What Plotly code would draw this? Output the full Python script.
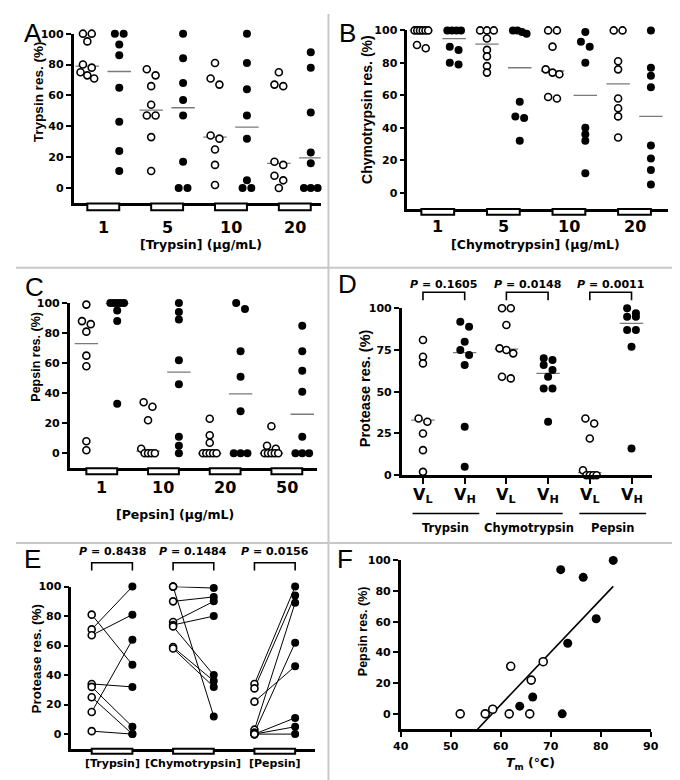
import numpy as np
import plotly.graph_objects as go

W, H = 680, 780
FONT_H = "DejaVu Sans, Verdana, sans-serif"        # wide bold face for horizontal text
FONT_V = "Liberation Sans, Arial, sans-serif"      # rotated titles and panel letters

# ---------------- data ----------------
trypsin_conc = ["1", "5", "10", "20"]
trypsin_VL = [[100, 100, 95, 80, 78, 75, 73, 71],
              [77, 73, 66, 54, 47, 47, 33, 11],
              [81, 71, 67, 34, 32, 25, 15, 2],
              [75, 67, 66, 17, 15, 8, 5, 0]]
trypsin_VH = [[100, 100, 93, 86, 65, 43, 24, 11],
              [100, 84, 68, 57, 47, 17, 0, 0],
              [100, 81, 64, 47, 32, 5, 0, 0],
              [88, 78, 49, 23, 16, 0, 0, 0]]

chymo_conc = ["1", "5", "10", "20"]
chymo_VL = [[100, 100, 100, 100, 100, 100, 91, 89],
            [100, 100, 100, 95, 88, 84, 78, 74],
            [100, 100, 90, 76, 74, 73, 59, 58],
            [100, 100, 81, 76, 58, 52, 47, 34]]
chymo_VH = [[100, 100, 100, 100, 90, 88, 80, 79],
            [100, 100, 99, 98, 56, 47, 46, 32],
            [99, 93, 90, 80, 40, 36, 32, 12],
            [100, 77, 72, 65, 29, 21, 14, 5]]

pepsin_conc = ["1", "10", "20", "50"]
pepsin_VL = [[99, 88, 86, 81, 65, 58, 8, 2],
             [34, 31, 22, 3, 0, 0, 0, 0],
             [23, 12, 7, 0, 0, 0, 0, 0],
             [18, 5, 3, 0, 0, 0, 0, 0]]
pepsin_VH = [[100, 100, 100, 100, 100, 95, 88, 33],
             [100, 94, 89, 62, 46, 11, 5, 0],
             [100, 96, 68, 51, 28, 0, 0, 0],
             [85, 68, 55, 41, 11, 0, 0, 0]]

D_groups = ["Trypsin", "Chymotrypsin", "Pepsin"]
D_VL = [[81, 71, 67, 34, 32, 25, 15, 2],
        [100, 100, 90, 76, 75, 73, 59, 58],
        [34, 31, 22, 3, 0, 0, 0, 0]]
D_VH = [[92, 89, 80, 75, 72, 66, 29, 5],
        [70, 69, 66, 63, 59, 52, 52, 32],
        [100, 97, 95, 95, 87, 87, 77, 16]]
D_p = ["0.1605", "0.0148", "0.0011"]

E_groups = ["[Trypsin]", "[Chymotrypsin]", "[Pepsin]"]
E_VL = [[81, 71, 67, 34, 32, 25, 15, 2],
        [100, 100, 90, 76, 74, 73, 59, 58],
        [34, 31, 22, 3, 1, 0, 0, 0]]
E_VH = [[47, 100, 81, 32, 5, 0, 64, 0],
        [99, 12, 93, 90, 80, 40, 36, 32],
        [100, 94, 46, 89, 62, 11, 5, 0]]
E_p = ["0.8438", "0.1484", "0.0156"]

F_tm_VL = [51.9, 56.9, 58.4, 61.7, 62.0, 65.8, 66.1, 68.5]
F_pep_VL = [0, 0, 3, 0, 31, 0, 22, 34]
F_tm_VH = [63.8, 66.4, 72.3, 72.0, 73.4, 76.5, 79.1, 82.5]
F_pep_VH = [5, 11, 0, 94, 46, 89, 62, 100]

y_ticks_20 = [0, 20, 40, 60, 80, 100]
y_ticks_25 = [0, 25, 50, 75, 100]
F_x_ticks = [40, 50, 60, 70, 80, 90]

# ---------------- geometry (pixels) ----------------
GEOM = {
    'A': dict(n=1, x=(59, 312), y=(20, 192.7), xr=(-0.43, 7.31), yr=(-10, 100)),
    'B': dict(n=2, x=(400.7, 668), y=(16.7, 198.2), xr=(-0.43, 7.53), yr=(-10, 100)),
    'C': dict(n=3, x=(55, 308), y=(294, 462), xr=(-0.54, 7.47), yr=(-10, 100)),
    'D': dict(n=4, x=(395, 651.7), y=(299.3, 469), xr=(-0.51, 5.5), yr=(0, 100)),
    'E': dict(n=5, x=(56.7, 306.7), y=(582.3, 747.3), xr=(-0.5, 5.5), yr=(-10, 100)),
    'F': dict(n=6, x=(394, 650), y=(555.7, 727.3), xr=(40, 90), yr=(-10, 100)),
}


def P(px):
    return px / W


def Q(py):
    return 1 - py / H


fig = go.Figure()
shapes = []
annotations = []
layout = dict(width=W, height=H, margin=dict(l=0, r=0, t=0, b=0),
              paper_bgcolor='white', plot_bgcolor='white', showlegend=False,
              font=dict(family=FONT_H, color='black'))

TICKFONT = dict(family=FONT_H, size=11, color='black', weight='bold')

for key, g in GEOM.items():
    s = '' if g['n'] == 1 else str(g['n'])
    layout['xaxis' + s] = dict(domain=[P(g['x'][0]), P(g['x'][1])], range=list(g['xr']),
                               anchor='y' + s, showline=True, linecolor='black', linewidth=2.5,
                               showgrid=False, zeroline=False, ticks='', showticklabels=False,
                               fixedrange=True)
    layout['yaxis' + s] = dict(domain=[Q(g['y'][1]), Q(g['y'][0])], range=list(g['yr']),
                               anchor='x' + s, showline=True, linecolor='black', linewidth=2.5,
                               showgrid=False, zeroline=False, ticks='outside', ticklen=5,
                               tickwidth=2, tickcolor='black',
                               tickvals=y_ticks_25 if key == 'D' else y_ticks_20,
                               tickfont=TICKFONT, fixedrange=True)

layout['xaxis4'].update(ticks='outside', ticklen=6, tickwidth=2, tickcolor='black',
                        tickvals=[0, 1, 2, 3, 4, 5])
layout['xaxis6'].update(ticks='outside', ticklen=5, tickwidth=2, tickcolor='black',
                        tickvals=F_x_ticks, showticklabels=True, tickfont=TICKFONT)


def scales(g):
    ppc = (g['x'][1] - g['x'][0]) / (g['xr'][1] - g['xr'][0])
    ppu = (g['y'][1] - g['y'][0]) / (g['yr'][1] - g['yr'][0])
    return ppc, ppu


def swarm(vals, ppu, ppc, diam=8.5):
    order = sorted(range(len(vals)), key=lambda i: -vals[i])
    rows = []
    for i in order:
        if rows and (vals[rows[-1][0]] - vals[i]) * ppu < 0.75 * diam:
            rows[-1].append(i)
        else:
            rows.append([i])
    offs = [0.0] * len(vals)
    for r in rows:
        m = len(r)
        if m < 2:
            continue
        sp = min(9.0, 14.0 / (m - 1))
        for k, i in enumerate(r):
            offs[i] = (k - (m - 1) / 2) * sp / ppc
    return offs


def ann(text, x, y, xref='paper', size=12, bold=True, angle=0, family=FONT_H):
    annotations.append(dict(text=('<b>%s</b>' % text) if bold else text, x=x,
                            y=Q(y), xref=xref, yref='paper', showarrow=False,
                            font=dict(family=family, size=size, color='black'),
                            textangle=angle, xanchor='center', yanchor='middle'))


def markers(xs, ys, filled, ax, size=8):
    if filled:
        mk = dict(symbol='circle', size=size, color='black', line=dict(width=0))
    else:
        mk = dict(symbol='circle', size=size - 1, color='white', line=dict(color='black', width=1.6))
    fig.add_trace(go.Scatter(x=xs, y=ys, mode='markers', marker=mk, cliponaxis=False,
                             xaxis='x' + ax, yaxis='y' + ax, hoverinfo='skip'))


def dot_panel(key, VL, VH):
    g = GEOM[key]
    ax = '' if g['n'] == 1 else str(g['n'])
    ppc, ppu = scales(g)
    xo, yo, xf, yf = [], [], [], []
    half = 12.0 / ppc
    for i, (vl, vh) in enumerate(zip(VL, VH)):
        for col, vals, xs, ys in ((2 * i, vl, xo, yo), (2 * i + 1, vh, xf, yf)):
            offs = swarm(vals, ppu, ppc)
            xs += [col + o for o in offs]
            ys += list(vals)
            med = float(np.median(vals))
            fig.add_trace(go.Scatter(x=[col - half, col + half], y=[med, med], mode='lines',
                                     line=dict(color='#7a7a7a', width=1.3), cliponaxis=False,
                                     xaxis='x' + ax, yaxis='y' + ax, hoverinfo='skip'))
    markers(xo, yo, False, ax)
    markers(xf, yf, True, ax)


def group_boxes(key, ngroups, h):
    g = GEOM[key]
    ax = '' if g['n'] == 1 else str(g['n'])
    yb = g['y'][1]
    for i in range(ngroups):
        shapes.append(dict(type='rect', xref='x' + ax, yref='paper', x0=2 * i, x1=2 * i + 1,
                           y0=Q(yb), y1=Q(yb + h), line=dict(color='black', width=2),
                           fillcolor='white', layer='above'))


def p_brackets(key, pvals, ytext, ytop, ylegs):
    g = GEOM[key]
    ax = '' if g['n'] == 1 else str(g['n'])
    for i, p in enumerate(pvals):
        ann('<i>P</i> = %s' % p, 2 * i + 0.5, ytext, xref='x' + ax, size=11)
        shapes.append(dict(type='path', xref='x' + ax, yref='paper',
                           path='M %f,%f L %f,%f L %f,%f L %f,%f' % (
                               2 * i, Q(ylegs), 2 * i, Q(ytop), 2 * i + 1, Q(ytop), 2 * i + 1, Q(ylegs)),
                           line=dict(color='black', width=1.6)))


# ---------------- Panels A, B, C ----------------
dot_panel('A', trypsin_VL, trypsin_VH)
dot_panel('B', chymo_VL, chymo_VH)
dot_panel('C', pepsin_VL, pepsin_VH)
group_boxes('A', 4, 7)
group_boxes('B', 4, 6)
group_boxes('C', 4, 6)
for i, t in enumerate(trypsin_conc):
    ann(t, 2 * i + 0.5, 217, xref='x', size=16)
for i, t in enumerate(chymo_conc):
    ann(t, 2 * i + 0.5, 216, xref='x2', size=16)
for i, t in enumerate(pepsin_conc):
    ann(t, 2 * i + 0.5, 482, xref='x3', size=16)
ann('[Trypsin] (μg/mL)', P(189), 234, size=12.5)
ann('[Chymotrypsin] (μg/mL)', P(532), 234, size=12.5)
ann('[Pepsin] (μg/mL)', P(163), 509, size=12.5)

# ---------------- Panel D ----------------
dot_panel('D', D_VL, D_VH)
p_brackets('D', D_p, 275, 283, 291)
for i, gname in enumerate(D_groups):
    ann('V<sub>L</sub>', 2 * i, 490, xref='x4', size=16)
    ann('V<sub>H</sub>', 2 * i + 1, 490, xref='x4', size=16)
    shapes.append(dict(type='line', xref='x4', yref='paper', x0=2 * i - 0.25, x1=2 * i + 1.35,
                       y0=Q(508), y1=Q(508), line=dict(color='black', width=1.5)))
    ann(gname, 2 * i + 0.55, 523, xref='x4', size=11.5)

# ---------------- Panel E ----------------
lx, ly = [], []
xo, yo, xf, yf = [], [], [], []
for i, (vl, vh) in enumerate(zip(E_VL, E_VH)):
    for a, b in zip(vl, vh):
        lx += [2 * i, 2 * i + 1, None]
        ly += [a, b, None]
        xo.append(2 * i); yo.append(a)
        xf.append(2 * i + 1); yf.append(b)
fig.add_trace(go.Scatter(x=lx, y=ly, mode='lines', line=dict(color='black', width=1),
                         xaxis='x5', yaxis='y5', hoverinfo='skip', cliponaxis=False))
markers(xo, yo, False, '5')
markers(xf, yf, True, '5')
group_boxes('E', 3, 5)
p_brackets('E', E_p, 547, 558, 566)
for i, gname in enumerate(E_groups):
    ann(gname, 2 * i + 0.5, 762, xref='x5', size=11)

# ---------------- Panel F ----------------
all_x = np.array(F_tm_VL + F_tm_VH, dtype=float)
all_y = np.array(F_pep_VL + F_pep_VH, dtype=float)
slope, icpt = np.polyfit(all_x, all_y, 1)
x_start = (GEOM['F']['yr'][0] - icpt) / slope
x_end = all_x.max()
fig.add_trace(go.Scatter(x=[x_start, x_end], y=[slope * x_start + icpt, slope * x_end + icpt],
                         mode='lines', line=dict(color='black', width=1.6),
                         xaxis='x6', yaxis='y6', hoverinfo='skip', cliponaxis=False))
markers(F_tm_VL, F_pep_VL, False, '6', size=9)
markers(F_tm_VH, F_pep_VH, True, '6', size=9)
ann('<i>T</i><sub>m</sub> (°C)', P(527), 762, size=12.5)

# ---------------- axis titles and letters ----------------
for txt, x, y, sz in (('Trypsin res. (%)', 23, 79, 13.5), ('Chymotrypsin res. (%)', 360, 97, 14),
                      ('Pepsin res. (%)', 21, 349, 12.5), ('Protease res. (%)', 357, 381, 14.5),
                      ('Protease res. (%)', 21, 656, 13.5), ('Pepsin res. (%)', 355, 628, 12.5)):
    ann(txt, P(x), y, size=sz, angle=-90, family=FONT_V)

for letter, x, y in (('A', 17.5, 19), ('B', 339, 19), ('C', 19, 278),
                     ('D', 339, 275), ('E', 17, 554), ('F', 337, 554)):
    ann(letter, P(x), y, size=26, bold=False, family=FONT_V)

# ---------------- panel dividers ----------------
for sh in (dict(x0=320, x1=320, y0=0, y1=780), dict(x0=0, x1=680, y0=258, y1=258),
           dict(x0=0, x1=680, y0=538, y1=538)):
    shapes.append(dict(type='line', xref='paper', yref='paper', x0=P(sh['x0']), x1=P(sh['x1']),
                       y0=Q(sh['y0']), y1=Q(sh['y1']), line=dict(color='#c8c8c8', width=2),
                       layer='below'))

layout['shapes'] = shapes
layout['annotations'] = annotations
fig.update_layout(layout)
fig.write_html("out.html")
